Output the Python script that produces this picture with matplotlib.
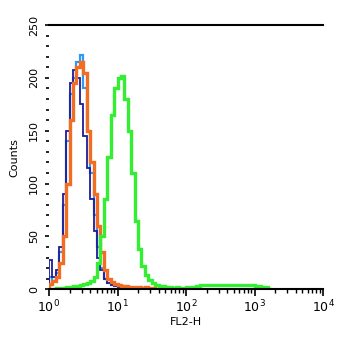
import numpy as np
import matplotlib
matplotlib.use("Agg")
import matplotlib.pyplot as plt
from matplotlib.ticker import MultipleLocator, LogLocator, NullFormatter

# histogram channels: 0.05 decade bins starting at 10^0
bin_step = 0.05

counts_navy = [28, 12, 18, 40, 90, 150, 195, 207, 200, 175, 145, 115, 85, 55,
               30, 18, 10, 6, 4, 3, 2, 2, 1, 1, 1, 0]
counts_lightblue = [12, 8, 15, 35, 80, 140, 185, 200, 215, 222, 190, 150, 110,
                    70, 40, 20, 10, 6, 4, 3, 2, 2, 2, 1, 1, 0]
counts_orange = [5, 8, 12, 25, 50, 100, 160, 195, 210, 215, 205, 150, 120, 90,
                 60, 35, 18, 10, 7, 5, 4, 3, 3, 2, 2, 2, 2, 1, 2, 1, 1, 0]
counts_green = [0, 0, 1, 1, 1, 2, 2, 3, 3, 4, 5, 6, 8, 12, 25, 50, 85, 125,
                165, 190, 200, 202, 180, 150, 110, 65, 38, 22, 14, 9, 6, 4, 3,
                3, 2, 2, 1, 2, 1, 1, 2, 2, 2, 3, 4, 4, 4, 4, 4, 4, 4, 4, 4, 4,
                4, 4, 4, 4, 4, 4, 3, 3, 2, 2, 0]

y_major = [0, 50, 100, 150, 200, 250]
x_major = [1, 10, 100, 1000, 10000]
x_labels = ["$10^0$", "$10^1$", "$10^2$", "$10^3$", "$10^4$"]


def edges_for(vals):
    return 10 ** (np.arange(len(vals) + 1) * bin_step)


fig = plt.figure(figsize=(3.5, 3.42), dpi=100)
ax = fig.add_axes([0.14, 0.154, 0.783, 0.773])

ax.stairs(counts_lightblue, edges_for(counts_lightblue), color="#3399ee", lw=1.6)
ax.stairs(counts_navy, edges_for(counts_navy), color="#1c1c9c", lw=1.3)
ax.stairs(counts_orange, edges_for(counts_orange), color="#f26d21", lw=2.4)
ax.stairs(counts_green, edges_for(counts_green), color="#33ee33", lw=2.4)

ax.set_xscale("log")
ax.set_xlim(1, 10000)
ax.set_ylim(0, 250)

ax.spines["right"].set_visible(False)
ax.spines["left"].set_visible(False)
ax.spines["top"].set_linewidth(1.5)
ax.spines["bottom"].set_linewidth(1.5)

ax.set_xticks(x_major)
ax.set_xticklabels(x_labels, fontsize=9)
ax.xaxis.set_minor_locator(LogLocator(base=10, subs=np.arange(2, 10)))
ax.xaxis.set_minor_formatter(NullFormatter())

ax.set_yticks(y_major)
ax.set_yticklabels([str(v) for v in y_major], fontsize=8, rotation=90,
                   va="center")
ax.yaxis.set_minor_locator(MultipleLocator(10))

ax.tick_params(axis="x", which="major", length=5, width=1.2, pad=2)
ax.tick_params(axis="x", which="minor", length=3, width=1)
ax.tick_params(axis="y", which="major", length=3, width=1.2, pad=4)
ax.tick_params(axis="y", which="minor", length=2.5, width=1.2)
ax.tick_params(top=False, right=False)

ax.set_xlabel("FL2-H", fontsize=8, labelpad=1)
ax.set_ylabel("Counts", fontsize=8, labelpad=7)

fig.savefig("out.png", dpi=100)
